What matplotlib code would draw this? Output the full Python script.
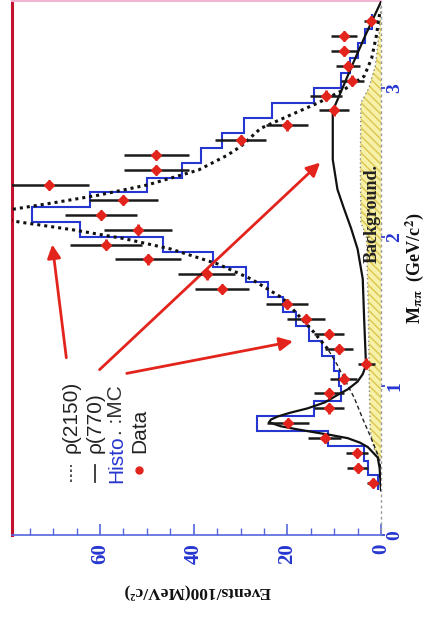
import matplotlib
matplotlib.use("Agg")
import matplotlib.pyplot as plt
from matplotlib.ticker import FixedLocator, MultipleLocator

# ---------------- data ----------------
mass_bin_centers = [0.35, 0.45, 0.55, 0.65, 0.75, 0.85, 0.95, 1.05, 1.15, 1.25,
                    1.35, 1.45, 1.55, 1.65, 1.75, 1.85, 1.95, 2.05, 2.15, 2.25,
                    2.35, 2.45, 2.55, 2.65, 2.75, 2.85, 2.95, 3.05, 3.15, 3.25,
                    3.35, 3.45]
data_events = [1.7, 5.0, 5.1, 12.0, 19.8, 11.1, 11.1, 8.0, 3.1, 8.9,
               11.1, 16.0, 20.0, 33.9, 37.2, 49.8, 58.8, 51.9, 59.8, 55.0,
               70.8, 48.0, 48.0, 30.0, 20.0, 10.0, 11.8, 6.1, 7.0, 7.9,
               7.9, 2.2]
data_errors = [1.3, 2.2, 2.3, 3.5, 4.5, 3.3, 3.3, 2.8, 1.8, 3.0,
               3.3, 4.0, 4.5, 5.8, 6.1, 7.1, 7.7, 7.2, 7.7, 7.4,
               8.4, 6.9, 6.9, 5.5, 4.5, 3.2, 3.4, 2.5, 2.6, 2.8,
               2.8, 1.5]
mass_bin_halfwidth = 0.035

mc_bin_edges = [0.3, 0.4, 0.5, 0.6, 0.7, 0.8, 0.9, 1.0, 1.1, 1.2, 1.3,
                1.4, 1.5, 1.6, 1.7, 1.8, 1.9, 2.0, 2.1, 2.2, 2.3,
                2.4, 2.5, 2.6, 2.7, 2.8, 2.9, 3.0, 3.1, 3.2, 3.3,
                3.4, 3.5]
mc_events = [0.7, 2.8, 3.7, 11.4, 26.4, 14.3, 8.6, 8.9, 10.1, 12.5,
             15.3, 18.2, 21.0, 24.2, 28.9, 35.8, 46.5, 64.2, 74.5, 62.2,
             49.9, 42.4, 38.5, 33.9, 29.2, 23.3, 14.3, 8.6, 6.6, 5.0,
             3.5, 1.9]

rho770_mass = [0.30, 0.45, 0.52, 0.59, 0.62, 0.65, 0.67, 0.69, 0.71, 0.73, 0.757,
               0.775, 0.795, 0.82, 0.85, 0.89, 0.94, 0.98, 1.03, 1.08, 1.14,
               1.45, 1.72, 1.92, 2.06, 2.20, 2.32, 2.52, 2.84, 2.87, 2.95,
               3.15, 3.35, 3.58]
rho770_events = [0.0, 0.3, 0.7, 2.8, 4.5, 7.1, 10.5, 14.3, 18.0, 21.4, 23.9,
                 23.5, 22.1, 19.5, 15.7, 12.0, 9.3, 7.0, 5.0, 3.9, 3.2,
                 3.6, 3.9, 5.0, 6.4, 8.0, 9.3, 10.3, 10.3, 10.0, 8.9,
                 6.2, 3.4, 0.0]

rho2150_mass = [0.45, 0.54, 0.65, 0.78, 0.92, 1.03, 1.14, 1.25, 1.36, 1.48,
                1.59, 1.72, 1.82, 1.92, 1.99, 2.05, 2.10, 2.15, 2.19, 2.23,
                2.28, 2.35, 2.45, 2.55, 2.61, 2.73, 2.82, 2.90, 2.99, 3.08,
                3.20, 3.35, 3.50]
rho2150_events = [0.0, 0.7, 2.1, 3.9, 5.7, 7.5, 9.3, 11.4, 14.3, 17.8,
                  21.0, 27.8, 34.9, 44.9, 54.9, 66.0, 77.0, 86.0, 78.0, 70.0,
                  60.6, 49.9, 39.0, 32.8, 29.9, 25.7, 19.3, 13.5, 7.9, 3.6,
                  2.0, 1.0, 0.3]

bkg_mass = [0.50, 0.58, 0.70, 1.00, 1.50, 2.00, 2.10, 2.50, 2.90, 3.00, 3.15, 3.40, 3.55]
bkg_events = [0.0, 1.5, 2.3, 2.5, 2.7, 3.1, 4.3, 4.4, 4.3, 2.6, 1.2, 0.3, 0.0]

events_ticks = [0, 20, 40, 60]
mass_ticks = [0, 1, 2, 3]

# ---------------- styling ----------------
BLUE = "#2636d0"
RED = "#e3241d"
SERIF = ["Liberation Serif", "DejaVu Serif"]
SANS = ["Liberation Sans", "DejaVu Sans"]
plt.rcParams["mathtext.fontset"] = "stix"
plt.rcParams["hatch.linewidth"] = 1.0

W, H = 427, 621
fig = plt.figure(figsize=(W / 100, H / 100), dpi=100)
ax_left, ax_right, ax_top, ax_bottom = 12, 381, 1, 535
ax = fig.add_axes([ax_left / W, 1 - ax_bottom / H,
                   (ax_right - ax_left) / W, (ax_bottom - ax_top) / H])
ax.set_xlim(78.8, 0)
ax.set_ylim(0, 3.585)

# background band
ax.fill_betweenx(bkg_mass, 0, bkg_events, facecolor="#f6f0a8",
                 edgecolor="#dcc64c", hatch="\\\\\\\\", linewidth=0, zorder=1)
ax.plot(bkg_events, bkg_mass, ls=(0, (1, 2)), color="#888888", lw=1.0, zorder=2)

# MC histogram
ax.stairs(mc_events, mc_bin_edges, orientation="horizontal", color=BLUE,
          lw=1.5, zorder=3, baseline=None)

# curves
n_low = 8
ax.plot(rho2150_events[:n_low], rho2150_mass[:n_low], color="#222222",
        ls=(0, (3, 2)), lw=1.0, zorder=4)
ax.plot(rho2150_events[n_low - 1:], rho2150_mass[n_low - 1:], color="#111111",
        ls=(0, (1, 1.3)), lw=2.2, zorder=4)
ax.plot(rho770_events, rho770_mass, color="#111111", lw=1.6, zorder=4)

# data
ax.errorbar(data_events, mass_bin_centers, xerr=data_errors, fmt="none",
            ecolor="#1a1a1a", elinewidth=1.8, capsize=0, zorder=5)
ax.errorbar(data_events, mass_bin_centers, yerr=mass_bin_halfwidth, fmt="D",
            color=RED, ms=5, mec=RED, ecolor=RED, elinewidth=2.0, capsize=0,
            zorder=6)

# spines
ax.spines["left"].set_color("#c2122e")
ax.spines["left"].set_linewidth(2.2)
ax.spines["top"].set_color("#f2b6d4")
ax.spines["top"].set_linewidth(1.5)
ax.spines["bottom"].set_color("#5566dd")
ax.spines["bottom"].set_linewidth(1.2)
ax.spines["right"].set_color("#9a9a9a")
ax.spines["right"].set_linestyle((0, (1, 3)))
ax.spines["right"].set_linewidth(1.0)

# ticks
ax.xaxis.set_major_locator(FixedLocator(events_ticks))
ax.xaxis.set_minor_locator(MultipleLocator(5))
ax.tick_params(axis="x", which="major", direction="in", length=8, width=1.2,
               color="#5566dd", pad=6, labelcolor=BLUE, labelsize=15,
               labelrotation=90)
ax.tick_params(axis="x", which="minor", direction="in", length=5, width=1.0,
               color="#5566dd")
ax.yaxis.tick_right()
ax.yaxis.set_major_locator(FixedLocator(mass_ticks))
ax.tick_params(axis="y", which="major", direction="out", length=3, width=1.2,
               color=BLUE, pad=1, labelcolor=BLUE, labelsize=14, labelrotation=90)
for lab in ax.get_xticklabels() + ax.get_yticklabels():
    lab.set_fontfamily(SERIF)
    lab.set_fontweight("bold")
for lab in ax.get_yticklabels():
    lab.set_va("center")

# axis labels
fig.text(197 / W, 1 - 592 / H, "Events/100(MeV/c²)", rotation=180,
         ha="center", va="center", fontfamily=SERIF, fontweight="bold",
         fontsize=12.5, color="#111111")
fig.text(426 / W, 1 - 268 / H, r"M$_{\mathbf{\pi\pi}}$  (GeV/c$^{\mathbf{2}}$)",
         rotation=90, ha="right", va="center", fontfamily=SERIF,
         fontweight="bold", fontsize=13, color="#111111")
ax.text(1.9, 2.16, "Background.", rotation=90, ha="center", va="center",
        fontfamily=SERIF, fontweight="bold", fontsize=13, color="#222222",
        zorder=7)

# legend (rotated, drawn manually)
def fx(px):
    return (px - ax_left) / (ax_right - ax_left)

def fy(py):
    return (ax_bottom - py) / (ax_bottom - ax_top)

tr = ax.transAxes
ax.plot([fx(71), fx(71)], [fy(482), fy(465)], transform=tr, color="#333333",
        ls=(0, (1.5, 1.5)), lw=1.2)
ax.text(fx(71), fy(453), "ρ(2150)", transform=tr, rotation=90, ha="center",
        va="bottom", fontfamily=SANS, fontsize=15, color="#222222")
ax.plot([fx(95), fx(95)], [fy(482), fy(465)], transform=tr, color="#333333",
        lw=1.3)
ax.text(fx(95), fy(453), "ρ(770)", transform=tr, rotation=90, ha="center",
        va="bottom", fontfamily=SANS, fontsize=15, color="#222222")
t_h = ax.text(fx(117), fy(483), "Histo", transform=tr, rotation=90,
              ha="center", va="bottom", fontfamily=SANS, fontsize=15,
              color=BLUE)
ax.annotate(". :MC", xy=(0.5, 1.0), xycoords=t_h, rotation=90, ha="center",
            va="bottom", fontfamily=SANS, fontsize=15, color="#333333")
ax.plot([fx(139)], [fy(470)], transform=tr, marker="o", ms=5, color=RED,
        ls="none")
ax.text(fx(140), fy(453), "Data", transform=tr, rotation=90, ha="center",
        va="bottom", fontfamily=SANS, fontsize=15, color="#222222")

# arrows
arrow_kw = dict(arrowstyle="-|>", color=RED, lw=2.0, mutation_scale=20,
                shrinkA=0, shrinkB=0)
ax.annotate("", xy=(70.2, 1.95), xytext=(67.2, 1.19), arrowprops=arrow_kw)
ax.annotate("", xy=(13.0, 2.50), xytext=(60.1, 1.11), arrowprops=arrow_kw)
ax.annotate("", xy=(18.8, 1.30), xytext=(54.3, 1.085), arrowprops=arrow_kw)

fig.savefig("out.png", dpi=100)
